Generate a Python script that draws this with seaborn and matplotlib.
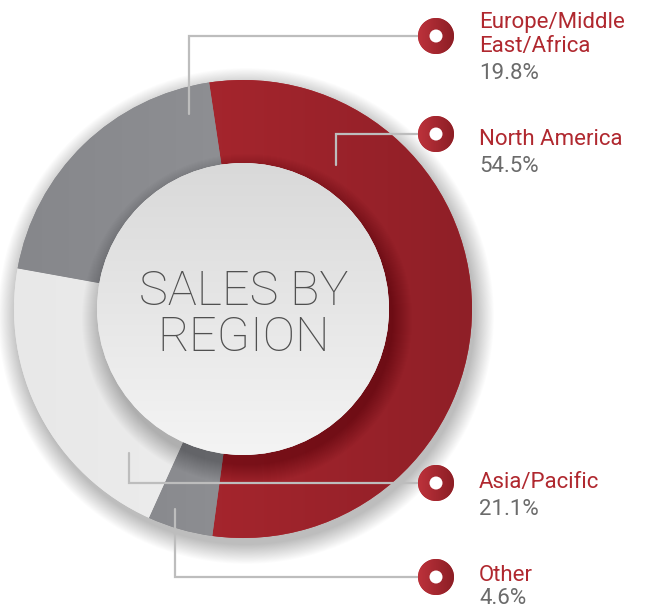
"""Sales by region donut chart with leader lines and legend markers."""

import matplotlib

matplotlib.use("Agg")
import matplotlib.pyplot as plt
import numpy as np
import seaborn as sns
from matplotlib.colors import LinearSegmentedColormap
from matplotlib.patches import Circle

# data: ring order, clockwise from the top
regions = ["North America", "Other", "Asia/Pacific", "Europe/Middle\nEast/Africa"]
shares = [54.5, 4.6, 21.1, 19.8]
title_lines = ["SALES BY", "REGION"]

# legend order, top to bottom
legend_regions = ["Europe/Middle\nEast/Africa", "North America", "Asia/Pacific", "Other"]

# layout (pixels, y measured from the top)
W, H = 647, 611
CX, CY = 243, 309
R_OUT, R_IN = 229, 146
START = 98.5
MARK_X = 436
MARK_Y = {"Europe/Middle\nEast/Africa": 36, "North America": 134,
          "Asia/Pacific": 483, "Other": 577}
ANCHOR = {"Europe/Middle\nEast/Africa": (189, 114), "North America": (336, 165),
          "Asia/Pacific": (129, 453), "Other": (175, 509)}
LABEL_BASE = {"Europe/Middle\nEast/Africa": 28, "North America": 145,
              "Asia/Pacific": 488, "Other": 581}
LABEL_X = 479
LINE_STEP = 24
PCT_GAP = 27

RED = "#b0282f"
GREY_TXT = "#6b6b6b"
LEADER = "#bdbdbd"
gradients = {
    "North America": ("#b52a32", "#8f1f27"),
    "Other": ("#828387", "#9a9b9f"),
    "Asia/Pacific": ("#e8e8e8", "#f3f3f3"),
    "Europe/Middle\nEast/Africa": ("#86878b", "#97989c"),
}

sns.set_theme(style="white")
plt.rcParams["font.family"] = ["Roboto", "DejaVu Sans"]


def Y(y):
    return H - y


def grad_fill(ax, patch, c0, c1, extent, vertical=False, zorder=2):
    cmap = LinearSegmentedColormap.from_list("g", [c0, c1])
    ramp = np.linspace(0, 1, 256)
    arr = ramp[:, None] if vertical else ramp[None, :]
    im = ax.imshow(arr, cmap=cmap, extent=extent, origin="upper" if vertical else "lower",
                   aspect="auto", interpolation="bilinear", zorder=zorder)
    im.set_clip_path(patch)
    return im


fig = plt.figure(figsize=(W / 100, H / 100), dpi=100)
ax = fig.add_axes([0, 0, 1, 1])

# soft drop shadow under the ring
for k in range(22):
    ax.add_patch(Circle((CX + 3, Y(CY + 7)), R_OUT + k * 0.9, color="black",
                        alpha=0.011, lw=0, zorder=0.5))

wedges, _ = ax.pie(
    shares,
    colors=[gradients[r][0] for r in regions],
    startangle=START,
    counterclock=False,
    radius=R_OUT,
    center=(CX, Y(CY)),
    wedgeprops=dict(width=R_OUT - R_IN, linewidth=0),
)
for w, r in zip(wedges, regions):
    w.set_zorder(1)
    c0, c1 = gradients[r]
    grad_fill(ax, w, c0, c1, [CX - R_OUT, CX + R_OUT, Y(CY + R_OUT), Y(CY - R_OUT)], zorder=2)

# shadow cast by the centre disc onto the ring (mostly below/right)
ring_clip = Circle((CX, Y(CY)), R_OUT, transform=ax.transData)
for k in range(20):
    c = Circle((CX + 4, Y(CY + 10)), R_IN + k, color="black", alpha=0.012, lw=0, zorder=3)
    ax.add_patch(c)
    c.set_clip_path(ring_clip)

# centre disc
disc = Circle((CX, Y(CY)), R_IN, facecolor="#e6e6e6", lw=0, zorder=4)
ax.add_patch(disc)
grad_fill(ax, disc, "#d9d9d9", "#f4f4f4",
          [CX - R_IN, CX + R_IN, Y(CY + R_IN), Y(CY - R_IN)], vertical=True, zorder=4.5)

for line, base in zip(title_lines, [305, 351]):
    ax.text(CX + 1, Y(base), line, ha="center", va="baseline", fontsize=35,
            fontweight="light", color="#505050", zorder=6)

# leader lines, markers and labels
share_of = dict(zip(regions, shares))
for r in legend_regions:
    ax_, ay_ = ANCHOR[r]
    my = MARK_Y[r]
    ax.plot([ax_, ax_, MARK_X], [Y(ay_), Y(my), Y(my)], color=LEADER, lw=1.6,
            solid_joinstyle="miter", zorder=5)
    ring = Circle((MARK_X, Y(my)), 18, facecolor=RED, lw=0, zorder=6)
    ax.add_patch(ring)
    grad_fill(ax, ring, "#bd323b", "#8c1e25",
              [MARK_X - 18, MARK_X + 18, Y(my + 18), Y(my - 18)], zorder=6.5)
    ax.add_patch(Circle((MARK_X, Y(my)), 6.5, facecolor="white", lw=0, zorder=7))

    lines = r.split("\n")
    base = LABEL_BASE[r]
    for i, t in enumerate(lines):
        ax.text(LABEL_X, Y(base + i * LINE_STEP), t, ha="left", va="baseline",
                fontsize=16, color=RED, zorder=7)
    pct_base = min(base + (len(lines) - 1) * LINE_STEP + PCT_GAP, H - 7)
    ax.text(LABEL_X, Y(pct_base), f"{share_of[r]}%", ha="left", va="baseline",
            fontsize=16, color=GREY_TXT, zorder=7)

ax.set_xlim(0, W)
ax.set_ylim(0, H)
ax.set_aspect("equal")
ax.axis("off")
fig.savefig("out.png", dpi=100, facecolor="white")
